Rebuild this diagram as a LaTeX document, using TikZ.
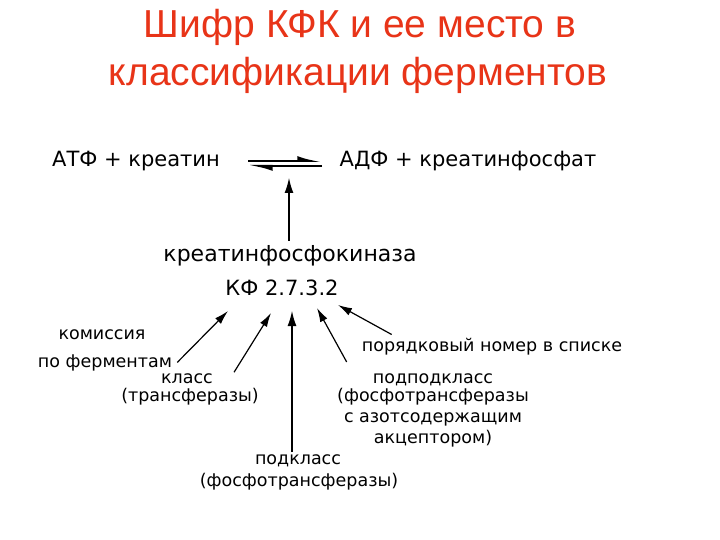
\documentclass[tikz,border=0pt]{standalone}
\usepackage{fontspec}
\setmainfont{Liberation Sans}
\newfontfamily\diagfont{DejaVu Sans}
\usepackage{tikz}
\usetikzlibrary{arrows.meta}
\definecolor{titlered}{RGB}{232,52,24}

\begin{document}
\begin{tikzpicture}[x=1pt,y=-1pt]
\useasboundingbox (0,0) rectangle (720,540);
% title
\begin{scope}[every node/.style={text=titlered,anchor=base,inner sep=0pt,
		font=\fontsize{39}{46}\selectfont}]
		\node (T1) at (360,38) {Шифр КФК и ее место в};
		\node (T2) at (358,86) {классификации ферментов};
\end{scope}
% reaction and enzyme
\begin{scope}[every node/.style={anchor=base,inner sep=0pt,
		font=\diagfont\fontsize{21}{24}\selectfont}]
		\node (ATF) at (136,167) {АТФ + креатин};
		\node (ADF) at (468,167) {АДФ + креатинфосфат};
		\node[font=\diagfont\fontsize{22}{24}\selectfont] (KFK) at (290,261) {креатинфосфокиназа};
		\node (KF) at (282,295) {КФ 2.7.3.2};
\end{scope}
% parts of the code
\begin{scope}[every node/.style={anchor=base,inner sep=0pt,
		font=\diagfont\fontsize{17.5}{20}\selectfont}]
		\node (kom1) at (102,339) {комиссия};
		\node (kom2) at (105,367) {по ферментам};
		\node (kl1) at (187,383) {класс};
		\node (kl2) at (190,401) {(трансферазы)};
		\node (pk1) at (298,464) {подкласс};
		\node (pk2) at (299,486) {(фосфотрансферазы)};
		\node (ppk1) at (433,383) {подподкласс};
		\node (ppk2) at (433,401) {(фосфотрансферазы};
		\node (ppk3) at (433,422) {с азотсодержащим};
		\node (ppk4) at (433,443) {акцептором)};
		\node (por) at (492,351) {порядковый номер в списке};
\end{scope}
% arrow ends
\coordinate (eqL) at (248,163.5);
\coordinate (eqR) at (322,163.5);
\coordinate (eqT) at (289,177);
\coordinate (t1) at (228,311);
\coordinate (t2) at (271,313);
\coordinate (t3) at (292,310);
\coordinate (t4) at (317,308);
\coordinate (t5) at (338,305);
% equilibrium
\begin{scope}[>={Latex[harpoon,length=19pt,width=10pt]},
		every edge/.style={draw,line width=2pt}]
		\path ([yshift=2.5pt]eqL) edge[->] ([yshift=2.5pt]eqR);
		\path ([yshift=-2.5pt]eqR) edge[->] ([yshift=-2.5pt]eqL);
\end{scope}
\begin{scope}[>={Latex[length=16pt,width=9pt]},
		every edge/.style={draw,line width=2.4pt}]
		\path ([yshift=4pt]KFK.north -| eqT) edge[->] (eqT);
		\path ([yshift=2pt]pk1.north -| t3) edge[->] (t3);
\end{scope}
\begin{scope}[>={Latex[length=14pt,width=8pt]},
		every edge/.style={draw,line width=1.2pt}]
		\path ([xshift=5pt]kom2.east) edge[->] (t1);
		\path ([xshift=21pt,yshift=6pt]kl1.east) edge[->] (t2);
		\path ([xshift=-26pt,yshift=11pt]ppk1.north west) edge[->] (t4);
		\path ([xshift=30pt,yshift=3pt]por.north west) edge[->] (t5);
\end{scope}
\end{tikzpicture}
\end{document}
